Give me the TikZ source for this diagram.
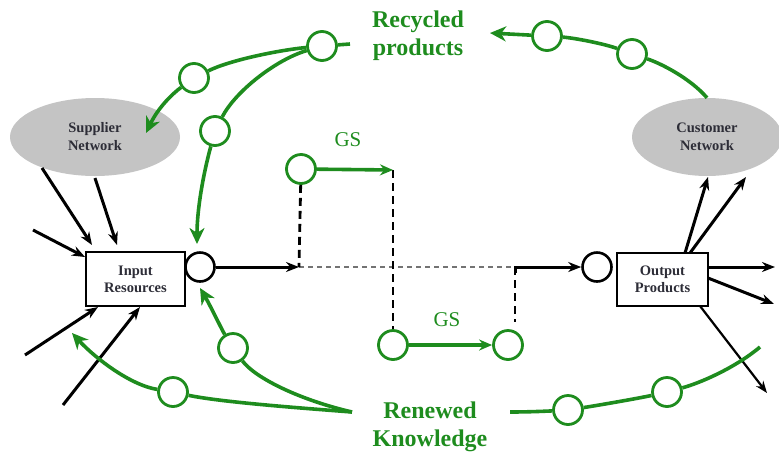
\documentclass[tikz,border=0pt]{standalone}
\usepackage{fontspec}
\setmainfont{Liberation Serif}
\usetikzlibrary{arrows.meta,shapes.geometric}
\definecolor{grn}{RGB}{30,140,30}
\definecolor{netgray}{RGB}{196,196,196}
\definecolor{txtdark}{RGB}{45,45,55}
\begin{document}
\begin{tikzpicture}[x=1pt,y=-1pt,
  gc/.style={circle,draw=grn,line width=2.8pt,fill=white,minimum size=29pt,inner sep=0pt},
  bc/.style={circle,draw=black,line width=2.6pt,fill=white,minimum size=29pt,inner sep=0pt},
  net/.style={ellipse,fill=netgray,inner sep=0pt,font=\fontsize{14.5}{18}\selectfont\bfseries,text=txtdark,align=center},
  box/.style={rectangle,draw=black,line width=2.2pt,fill=white,font=\fontsize{14.5}{17}\selectfont\bfseries,text=txtdark,align=center,inner sep=0pt},
  gline/.style={draw=grn,line width=3.6pt},
  garrow/.style={gline,-{Stealth[length=16pt,width=15pt,inset=5pt]}},
  gsarrow/.style={gline,-{Stealth[length=13pt,width=11pt]}},
  barrow/.style={draw=black,line width=3pt,-{Stealth[length=13pt,width=10pt]}},
  tarrow/.style={draw=black,line width=2.2pt,-{Stealth[length=12pt,width=9pt]}},
  vdash/.style={draw=black,line width=2.8pt,dash pattern=on 8pt off 5pt},
  hdash/.style={draw=black!55,line width=1.8pt,dash pattern=on 5pt off 4pt},
  big/.style={text=grn,font=\fontsize{24}{28}\selectfont\bfseries,align=center},
  gslabel/.style={text=grn,font=\fontsize{21}{24}\selectfont}
]
\useasboundingbox (0,0) rectangle (779,456);

% networks and boxes
\node[net,minimum width=170pt,minimum height=78pt] (sup) at (95,137) {Supplier\\Network};
\node[net,minimum width=150pt,minimum height=78pt] (cus) at (707,137) {Customer\\Network};
\node[box,minimum width=99pt,minimum height=54pt] (inp) at (135.5,279) {Input\\Resources};
\node[box,minimum width=91pt,minimum height=53pt] (outp) at (662.5,279.5) {Output\\Products};

% black circles
\node[bc] (c1) at (200,267) {};
\node[bc] (c2) at (597,267) {};

% GS circles
\node[gc] (g1) at (301,169) {};
\node[gc] (g2) at (393,345) {};
\node[gc] (g3) at (508,345) {};
\node[gslabel] (gsa) at (348,140) {GS};
\node[gslabel] (gsb) at (447,320) {GS};

% recycled / renewed circles
\node[gc] (r1) at (322,46) {};
\node[gc] (r2) at (194,78) {};
\node[gc] (r3) at (215,131) {};
\node[gc] (r4) at (547,36) {};
\node[gc] (r5) at (632,54) {};
\node[gc] (k1) at (233,348) {};
\node[gc] (k2) at (173,392) {};
\node[gc] (k3) at (568,410) {};
\node[gc] (k4) at (667,392) {};

\node[big] (rec) at (418,36) {Recycled\\products};
\node[big] (ren) at (430,427) {Renewed\\Knowledge};

% coordinates
\coordinate (p1) at (299,267);
\coordinate (p2) at (515,267);
\coordinate (p2b) at (515,273);
\coordinate (p2d) at (515,322);
\coordinate (gt) at (393,170);
\coordinate (a1) at (146,133);
\coordinate (a2) at (197,244);
\coordinate (a3) at (490,33);
\coordinate (a4) at (200,288);
\coordinate (a5) at (72,333);
\coordinate (rs) at (350,44);
\coordinate (o1) at (352,412);
\coordinate (o2) at (510,412);
\coordinate (e1) at (760,347);

% input arrows
\coordinate (i1s) at (42,168);  \coordinate (i1t) at (92,245);
\coordinate (i2s) at (95,178);  \coordinate (i2t) at (117,245);
\coordinate (i3s) at (33,230);  \coordinate (i3t) at (85,257);
\coordinate (i4s) at (25,355);  \coordinate (i4t) at (98,307);
\coordinate (i5s) at (63,405);  \coordinate (i5t) at (140,307);
\draw[barrow] (i1s) -- (i1t);
\draw[barrow] (i2s) -- (i2t);
\draw[barrow] (i3s) -- (i3t);
\draw[barrow] (i4s) -- (i4t);
\draw[barrow] (i5s) -- (i5t);

% output arrows
\coordinate (u1s) at (708,267); \coordinate (u1t) at (775,267);
\coordinate (u2s) at (708,278); \coordinate (u2t) at (774,304);
\coordinate (u3s) at (700,306); \coordinate (u3t) at (767,393);
\coordinate (u4s) at (685,253); \coordinate (u4t) at (708,177);
\coordinate (u5s) at (690,253); \coordinate (u5t) at (746,177);
\draw[barrow] (u1s) -- (u1t);
\draw[barrow] (u2s) -- (u2t);
\draw[tarrow] (u3s) -- (u3t);
\draw[barrow] (u4s) -- (u4t);
\draw[barrow] (u5s) -- (u5t);

% main flow
\draw[barrow] (c1) -- (p1);
\draw[hdash] (p1) -- (p2);
\draw[barrow] (p2b) -- (p2) -- (c2);
\draw[vdash] (g1) -- (p1);
\draw[vdash] (gt) -- (g2);
\draw[vdash] (p2) -- (p2d);
\draw[gsarrow] (g1) -- (gt);
\draw[gsarrow] (g2) -- (g3);

% recycled loops
\draw[gline] (r1) -- (rs);
\draw[gline] (r1) .. controls (280,50) and (230,60) .. (r2);
\draw[garrow] (r2) .. controls (172,94) and (158,108) .. (a1);
\draw[gline] (r1) .. controls (275,60) and (235,92) .. (r3);
\draw[garrow] (r3) .. controls (203,175) and (197,210) .. (a2);
\draw[gline] (cus.north) .. controls (690,78) and (660,63) .. (r5);
\draw[gline] (r5) .. controls (605,44) and (575,38) .. (r4);
\draw[garrow] (r4) -- (a3);

% renewed loops
\draw[gline] (o1) .. controls (300,400) and (255,378) .. (k1);
\draw[garrow] (k1) .. controls (222,330) and (210,305) .. (a4);
\draw[gline] (o1) .. controls (300,408) and (220,402) .. (k2);
\draw[garrow] (k2) .. controls (130,385) and (95,358) .. (a5);
\draw[gline] (o2) .. controls (530,412) and (550,411) .. (k3);
\draw[gline] (k3) .. controls (600,405) and (640,398) .. (k4);
\draw[gline] (k4) .. controls (700,383) and (735,368) .. (e1);
\end{tikzpicture}
\end{document}
